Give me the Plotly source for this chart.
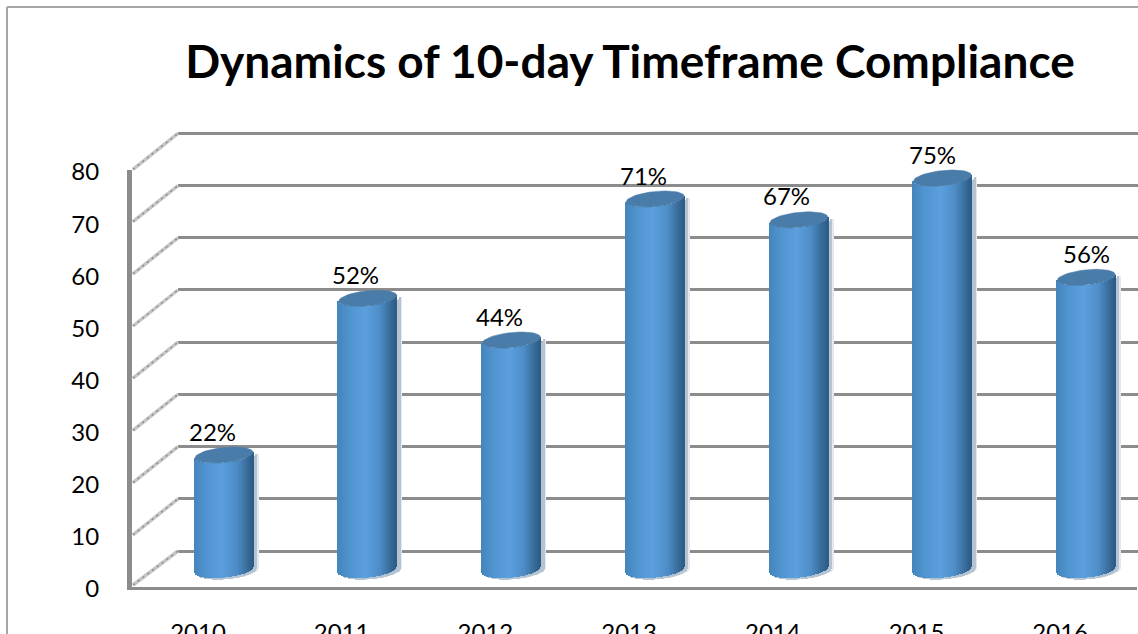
import numpy as np
import plotly.graph_objects as go

W, H = 1138, 634
YEARS = ['2010', '2011', '2012', '2013', '2014', '2015', '2016']
COMPLIANCE = [22, 52, 44, 71, 67, 75, 56]
PCT_LABELS = ['22%', '52%', '44%', '71%', '67%', '75%', '56%']
Y_TICKS = [0, 10, 20, 30, 40, 50, 60, 70, 80]
LABEL_XSHIFT = [-12, -12, -12, -12, -12, -10, 0]

FONT = 'Lato'
GREY = '#8c8c8c'
STEP = 143.7      # px per category
UNIT = 5.22       # px per y unit
HALF = 29 / STEP  # cylinder half width
ELL = 1.45        # cap half height, y units
TILT = 0.55       # cap tilt, y units
Y_BELOW = 4       # room under zero on the bar axis for the rounded foot
BACK_PAD = 1      # keeps the 0 and 80 gridlines off the axis ends

# gradient across the cylinder, left to right
STOPS_U = [-1, -0.6, -0.05, 0.45, 0.8, 1]
STOPS_RGB = np.array([[70, 134, 190], [80, 148, 208], [92, 160, 224],
                      [78, 141, 200], [58, 110, 156], [47, 93, 133]])


def px_x(p):
    return p / W


def px_y(p):
    return 1 - p / H


def front_edge(u):
    return -ELL * np.sqrt(np.clip(1 - u ** 2, 0, 1)) + TILT * u


def col(u):
    rgb = [np.interp(u, STOPS_U, STOPS_RGB[:, c]) for c in range(3)]
    return 'rgb(%d,%d,%d)' % tuple(rgb)


us = np.linspace(-1, 1, 58)
strip = 1.5 / STEP
fig = go.Figure()

# empty traces so the back wall and front edge axes get drawn
fig.add_trace(go.Scatter(x=[None], y=[None], xaxis='x', yaxis='y', hoverinfo='skip'))
fig.add_trace(go.Scatter(x=[None], y=[None], xaxis='x3', yaxis='y3', hoverinfo='skip'))

# pale shadow on the right of each bar
for shift_px, shade in [(5, '#e3e9ef'), (3.5, '#b4c4d2')]:
    xs, ys, bases = [], [], []
    for i, v in enumerate(COMPLIANCE):
        xs += list(i + us * HALF + shift_px / STEP)
        ys += [v] * len(us)
        bases += list(front_edge(us) - 0.3)
    fig.add_trace(go.Bar(x=xs, y=ys, base=bases, width=strip, marker_color=shade,
                         marker_line_width=0, xaxis='x2', yaxis='y2', hoverinfo='skip'))

xs, ys, bases, colors = [], [], [], []
for i, v in enumerate(COMPLIANCE):
    xs += list(i + us * HALF)
    ys += [v] * len(us)
    bases += list(front_edge(us))
    colors += [col(u) for u in us]
fig.add_trace(go.Bar(x=xs, y=ys, base=bases, width=strip, marker_color=colors,
                     marker_line_width=0, xaxis='x2', yaxis='y2', hoverinfo='skip'))

# cylinder caps
t = np.linspace(0, 2 * np.pi, 60)
for i, v in enumerate(COMPLIANCE):
    fig.add_trace(go.Scatter(x=i + HALF * np.cos(t),
                             y=v + ELL * np.sin(t) + TILT * np.cos(t),
                             mode='lines', fill='toself', fillcolor='#4a7ca9',
                             line=dict(color='#4a7ca9', width=0.5),
                             xaxis='x2', yaxis='y2', hoverinfo='skip'))

annotations = [dict(x=i, y=v, xref='x2', yref='y2', text=lab, showarrow=False,
                    xshift=dx, yshift=24, font=dict(family=FONT, size=24, color='#000'))
               for i, (v, lab, dx) in enumerate(zip(COMPLIANCE, PCT_LABELS, LABEL_XSHIFT))]

# outer frame and the floor/side wall diagonals
shapes = [
    dict(type='line', xref='paper', yref='paper', x0=px_x(7), x1=px_x(7), y0=0, y1=px_y(7),
         line=dict(color='#a6a6a6', width=2)),
    dict(type='line', xref='paper', yref='paper', x0=px_x(7), x1=1, y0=px_y(7), y1=px_y(7),
         line=dict(color='#a6a6a6', width=2)),
]
for tick in Y_TICKS:
    y_front = px_y(587 - tick * UNIT - (2 if tick == 0 else 0))
    y_back = px_y(551 - tick * UNIT)
    for color, width, dash in [('#c6c6c6', 3.5, 'solid'), ('#8f8f8f', 1.5, '2px,4px')]:
        shapes.append(dict(type='line', xref='paper', yref='paper', x0=px_x(133), x1=px_x(178),
                           y0=y_front, y1=y_back, line=dict(color=color, width=width, dash=dash)))

fig.update_layout(
    width=W, height=H, autosize=False, showlegend=False, barmode='overlay', bargap=0,
    paper_bgcolor='white', plot_bgcolor='rgba(0,0,0,0)',
    margin=dict(l=0, r=0, t=0, b=0),
    title=dict(text='<b>Dynamics of 10-day Timeframe Compliance</b>',
               x=630 / W, xanchor='center', y=px_y(62), yanchor='middle',
               font=dict(family=FONT, size=46, color='#000')),
    annotations=annotations, shapes=shapes,
    # back wall, carries the gridlines
    xaxis=dict(domain=[px_x(178), 1], range=[0, 1], visible=False, anchor='y', automargin=False),
    yaxis=dict(domain=[px_y(551 + BACK_PAD * UNIT), px_y(133 - BACK_PAD * UNIT)],
               range=[-BACK_PAD, 80 + BACK_PAD], tickvals=Y_TICKS, anchor='x', automargin=False,
               showgrid=True, gridcolor=GREY, gridwidth=2.5, zeroline=False,
               showline=False, showticklabels=False, ticks=''),
    # mid depth, carries the bars
    xaxis2=dict(domain=[px_x(132), 1], range=[-(224 - 132) / STEP, -(224 - 132) / STEP + 1006 / STEP],
                visible=False, anchor='y2', automargin=False),
    yaxis2=dict(domain=[px_y(570 + Y_BELOW * UNIT), px_y(152)], range=[-Y_BELOW, 80],
                visible=False, anchor='x2', automargin=False),
    # front edge, carries the axis lines and the tick labels
    xaxis3=dict(domain=[px_x(132), px_x(1137)], range=[-66 / STEP, -66 / STEP + 1005 / STEP],
                anchor='y3', tickvals=list(range(len(YEARS))), ticktext=YEARS, automargin=False,
                showgrid=False, zeroline=False, showline=True, linecolor=GREY, linewidth=3,
                ticks='', ticklabelstandoff=22, tickfont=dict(family=FONT, size=24, color='#000')),
    yaxis3=dict(domain=[px_y(587), px_y(170)], range=[0, 80], anchor='x3', tickvals=Y_TICKS, automargin=False,
                showgrid=False, zeroline=False, showline=True, linecolor=GREY, linewidth=5,
                ticks='', ticklabelstandoff=23, ticklabelshift=2,
                tickfont=dict(family=FONT, size=24, color='#000')),
)

fig.write_html('out.html', config=dict(displayModeBar=False),
               post_script="document.body.style.margin='0';document.body.style.overflow='hidden';")
